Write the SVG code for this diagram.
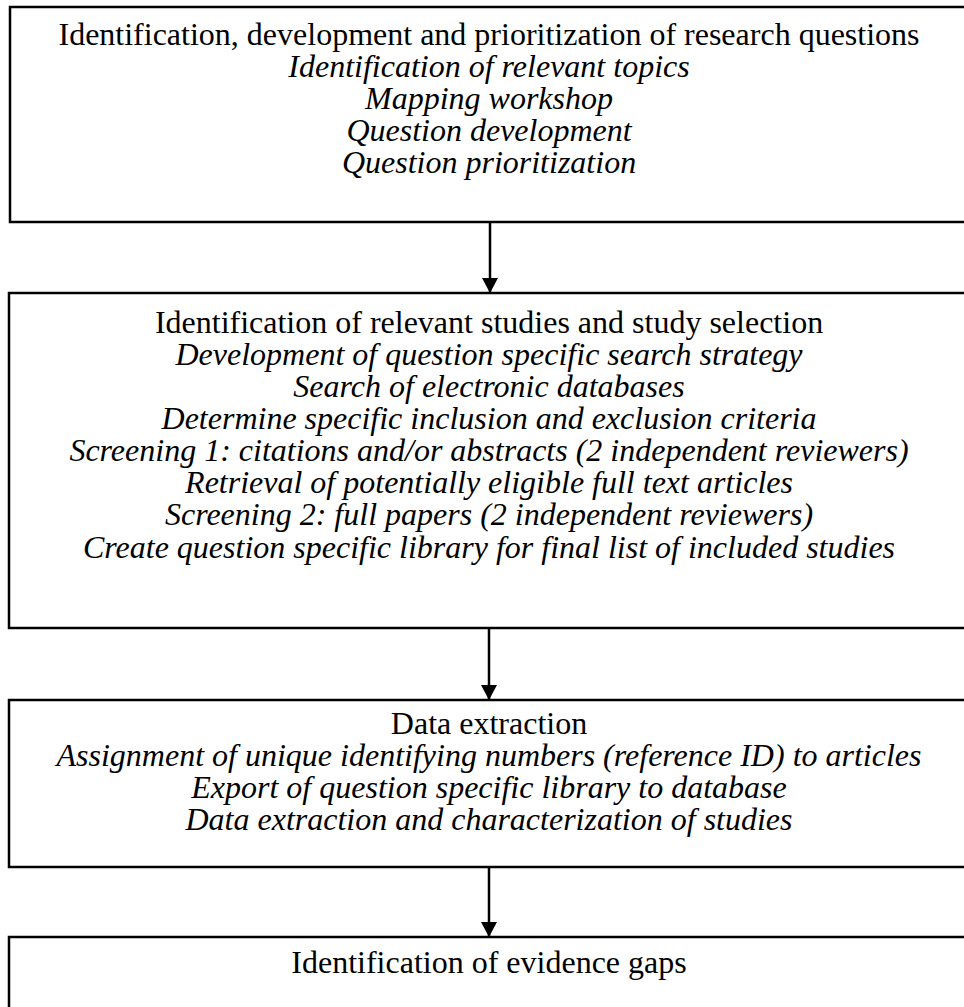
<svg xmlns="http://www.w3.org/2000/svg" width="964" height="1007" viewBox="0 0 964 1007">
<defs>
<style>
.box{fill:#fff;stroke:#000;stroke-width:2.5}
.t{font-family:"Liberation Serif","Times New Roman",serif;font-size:32px;fill:#000;text-anchor:middle}
.i{font-style:italic}
.c{stroke:#000;stroke-width:2.5;fill:none}
</style>
<marker id="ah" markerWidth="15" markerHeight="16" refX="15" refY="8" orient="auto" markerUnits="userSpaceOnUse" viewBox="0 0 15 16">
<path d="M0,0 L15,8 L0,16 Z" fill="#000"/>
</marker>
</defs>
<rect width="964" height="1007" fill="#fff"/>
<g id="node1">
<rect class="box" x="10" y="7" width="970" height="215"/>
<text class="t" x="489" y="45">Identification, development and prioritization of research questions</text>
<text class="t i" x="489" y="77">Identification of relevant topics</text>
<text class="t i" x="489" y="109">Mapping workshop</text>
<text class="t i" x="489" y="141">Question development</text>
<text class="t i" x="489" y="173">Question prioritization</text>
</g>
<g id="node2">
<rect class="box" x="9" y="293" width="970" height="335"/>
<text class="t" x="489" y="333">Identification of relevant studies and study selection</text>
<text class="t i" x="489" y="365">Development of question specific search strategy</text>
<text class="t i" x="489" y="397">Search of electronic databases</text>
<text class="t i" x="489" y="429">Determine specific inclusion and exclusion criteria</text>
<text class="t i" x="489" y="461">Screening 1: citations and/or abstracts (2 independent reviewers)</text>
<text class="t i" x="489" y="493">Retrieval of potentially eligible full text articles</text>
<text class="t i" x="489" y="525">Screening 2: full papers (2 independent reviewers)</text>
<text class="t i" x="489" y="558">Create question specific library for final list of included studies</text>
</g>
<g id="node3">
<rect class="box" x="9" y="700" width="970" height="167"/>
<text class="t" x="489" y="734">Data extraction</text>
<text class="t i" x="489" y="766">Assignment of unique identifying numbers (reference ID) to articles</text>
<text class="t i" x="489" y="798">Export of question specific library to database</text>
<text class="t i" x="489" y="830">Data extraction and characterization of studies</text>
</g>
<g id="node4">
<rect class="box" x="9" y="937" width="970" height="100"/>
<text class="t" x="489" y="973">Identification of evidence gaps</text>
</g>
<g id="connectors">
<line class="c" x1="490" y1="222" x2="490" y2="293" marker-end="url(#ah)"/>
<line class="c" x1="489" y1="628" x2="489" y2="700" marker-end="url(#ah)"/>
<line class="c" x1="489" y1="867" x2="489" y2="937" marker-end="url(#ah)"/>
</g>
</svg>
